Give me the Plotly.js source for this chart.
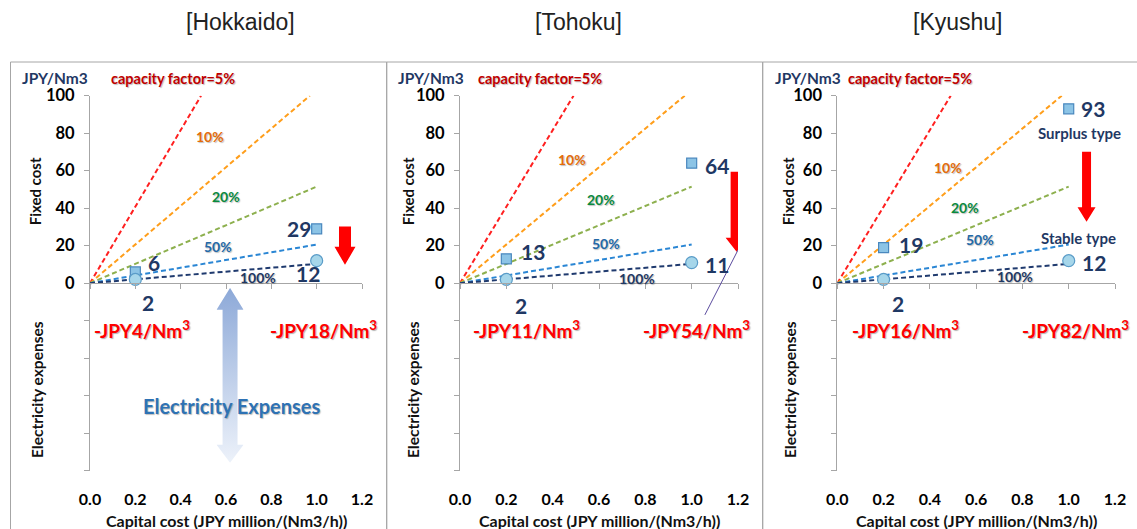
<!DOCTYPE html>
<html>
<head>
<meta charset="utf-8">
<script src="https://cdn.plot.ly/plotly-3.0.1.min.js"></script>
<style>html,body{margin:0;padding:0;background:#fff}#chart{width:1137px;height:529px}</style>
</head>
<body>
<div id="chart"></div>
<script>
// ---------------- DATA ----------------
const regions = ['[Hokkaido]', '[Tohoku]', '[Kyushu]'];
const capacityLabels = ['capacity factor=5%', '10%', '20%', '50%', '100%'];
const lineEndX = [0.49, 0.97, 1.0, 1.0, 1.0];
const lineEndY = [100, 100, 51.5, 20.6, 10.3];
const pointX = [0.2, 1.0];
const hokkaidoSurplus = [6, 29];
const hokkaidoStable = [2, 12];
const tohokuSurplus = [13, 64];
const tohokuStable = [2, 11];
const kyushuSurplus = [19, 93];
const kyushuStable = [2, 12];
const typeLabels = ['Surplus type', 'Stable type'];
const elecLow = [4, 11, 16];
const elecHigh = [18, 54, 82];
const xTickVals = [0, 0.2, 0.4, 0.6, 0.8, 1.0, 1.2];
const xTickText = ['0.0', '0.2', '0.4', '0.6', '0.8', '1.0', '1.2'];
const yTickVals = [-100, -80, -60, -40, -20, 0, 20, 40, 60, 80, 100];
const yTickText = ['', '', '', '', '', '0', '20', '40', '60', '80', '100'];

// ---------------- STYLE / LAYOUT ----------------
const W = 1137, H = 529;
const FONT = 'Lato, "Liberation Sans", sans-serif';
const NAVY = '#1F3864';
const AXC = '#A6A6A6';
const lineColors = ['#FF2020', '#FF9E1B', '#8DB04E', '#2A86D4', '#1F3A6E'];
const labelColors = ['#C00000', '#E46C0A', '#0A8A3E', '#2369A8', '#1F3864'];
const surplusSets = [hokkaidoSurplus, tohokuSurplus, kyushuSurplus];
const stableSets = [hokkaidoStable, tohokuStable, kyushuStable];

const plotTop = 95.7, plotBot = 470.7;
const panelPx = [[90, 362], [460, 738], [837.3, 1115]];
const regionCenters = [240, 578, 958];
const yd = [1 - plotBot / H, 1 - plotTop / H];

// per-panel label placement (data coords of each panel); first entry in paper px
const capTopPx = [173, 540, 910];
const capLabelPos = [
  [null, [0.529, 78.5], [0.599, 46.1], [0.565, 19.5], [0.741, 3.0]],
  [null, [0.482, 66.2], [0.607, 44.9], [0.629, 21.3], [0.765, 2.7]],
  [null, [0.479, 61.6], [0.552, 40.5], [0.616, 23.1], [0.768, 3.5]]
];
const jpyPx = [55, 431, 808];
// label offsets [surplus0, surplus1, stable0, stable1] as [xshift,yshift]
const valShift = [
  [[19, 9], [-18, 0], [13, -23], [-9, -13]],
  [[27, 7], [25, -2], [15, -26], [25, -2]],
  [[27, 3], [24, 0], [14, -24], [25, -2]]
];
const elecPos = [[0.229, 1.032], [0.289, 1.019], [0.296, 1.031]];
const yTitleX = [[35, 37], [408, 413], [788, 790]];
// red arrows: x, top, headStart, tip (data), shaft half width, head half width (px)
const redArrows = [
  [1.125, 30.2, 19.4, 9.8, 6, 10.5],
  [1.194, 59.5, 24.3, 16.8, 6, 11],
  [1.077, 70.1, 40.5, 32.8, 4.5, 9]
];

const traces = [];
const layout = {
  width: W, height: H,
  margin: {l: 0, r: 0, t: 0, b: 0},
  paper_bgcolor: '#fff', plot_bgcolor: 'rgba(0,0,0,0)',
  showlegend: false,
  font: {family: FONT},
  annotations: [], shapes: [], images: []
};

function paperAnn(px, py, text, font, extra) {
  return Object.assign({xref: 'paper', yref: 'paper', x: px / W, y: 1 - py / H,
    xanchor: 'center', yanchor: 'middle', text: text, showarrow: false, font: font}, extra || {});
}

for (let p = 0; p < 3; p++) {
  const sfx = p === 0 ? '' : String(p + 1);
  const xa = 'x' + sfx, ya = 'y' + sfx;
  const za = 'x' + (p + 4);
  const [px0, px1] = panelPx[p];
  const xd = [px0 / W, px1 / W];

  layout['xaxis' + sfx] = {
    domain: xd, range: [0, 1.2], anchor: ya,
    tickvals: xTickVals, ticktext: xTickText,
    ticks: '', showline: false, showgrid: false, zeroline: false,
    ticklabelstandoff: 17,
    tickfont: {family: FONT, size: 16, color: '#000', weight: 700},
    fixedrange: true
  };
  layout['yaxis' + sfx] = {
    domain: yd, range: [-100, 100], anchor: xa,
    tickvals: yTickVals, ticktext: yTickText,
    ticks: 'outside', ticklen: 5, tickcolor: AXC,
    showline: true, linecolor: AXC, linewidth: 1,
    showgrid: false, zeroline: false,
    ticklabelstandoff: 6,
    tickfont: {family: FONT, size: 16.5, color: '#000', weight: 700},
    fixedrange: true
  };
  layout['xaxis' + (p + 4)] = {
    overlaying: xa, anchor: 'free', position: (yd[0] + yd[1]) / 2,
    range: [0, 1.2], tickvals: xTickVals,
    ticks: 'outside', ticklen: 5, tickcolor: AXC,
    showline: true, linecolor: AXC, linewidth: 1,
    showticklabels: false, showgrid: false, zeroline: false,
    fixedrange: true
  };
  traces.push({x: [0], y: [0], xaxis: za, yaxis: ya, mode: 'none',
    hoverinfo: 'skip', showlegend: false});

  // capacity factor lines
  for (let i = 0; i < capacityLabels.length; i++) {
    traces.push({
      x: [0, lineEndX[i]], y: [0, lineEndY[i]], xaxis: xa, yaxis: ya,
      mode: 'lines', hoverinfo: 'skip',
      line: {color: lineColors[i], width: 2, dash: '5px,3px'}
    });
    const f = {family: FONT, size: i === 0 ? 14.5 : 14, color: labelColors[i], weight: 700,
      shadow: '1px 1px 1px rgba(0,0,0,0.25)'};
    if (i === 0) {
      layout.annotations.push(paperAnn(capTopPx[p], 79, capacityLabels[i], f));
    } else {
      layout.annotations.push({
        xref: xa, yref: ya, x: capLabelPos[p][i][0], y: capLabelPos[p][i][1],
        xanchor: 'center', yanchor: 'middle',
        text: capacityLabels[i], showarrow: false, font: f
      });
    }
  }

  // markers
  traces.push({
    x: pointX, y: surplusSets[p], xaxis: xa, yaxis: ya, mode: 'markers',
    hoverinfo: 'skip',
    marker: {symbol: 'square', size: 10, color: '#8CC4E6', line: {color: '#4A88BE', width: 1.2}}
  });
  traces.push({
    x: pointX, y: stableSets[p], xaxis: xa, yaxis: ya, mode: 'markers',
    hoverinfo: 'skip',
    marker: {symbol: 'circle', size: 12, color: '#A6D6EA', line: {color: '#5A9CC8', width: 1.2}}
  });

  // value labels
  const vals = [[pointX[0], surplusSets[p][0]], [pointX[1], surplusSets[p][1]],
                [pointX[0], stableSets[p][0]], [pointX[1], stableSets[p][1]]];
  vals.forEach((v, k) => {
    layout.annotations.push({
      xref: xa, yref: ya, x: v[0], y: v[1], text: String(v[1]),
      xanchor: 'center', yanchor: 'middle',
      xshift: valShift[p][k][0], yshift: valShift[p][k][1], showarrow: false,
      font: {family: FONT, size: 21, color: NAVY, weight: 700}
    });
  });

  // JPY/Nm3 unit
  layout.annotations.push(paperAnn(jpyPx[p], 78, 'JPY/Nm3',
    {family: FONT, size: 15.5, color: NAVY, weight: 700}));

  // electricity expense values
  [elecLow[p], elecHigh[p]].forEach((v, k) => {
    layout.annotations.push({
      xref: xa, yref: ya, x: elecPos[p][k], y: -24.9,
      xanchor: 'center', yanchor: 'middle',
      text: '-JPY' + v + '/Nm<sup>3</sup>', showarrow: false,
      font: {family: FONT, size: 19, color: '#FF0000', weight: 700, shadow: '1px 1px 1px rgba(0,0,0,0.3)'}
    });
  });

  // axis titles
  layout.annotations.push({
    xref: 'paper', yref: ya, x: yTitleX[p][0] / W, y: 49, textangle: -90,
    xanchor: 'center', yanchor: 'middle',
    text: 'Fixed cost', showarrow: false,
    font: {family: FONT, size: 15, color: '#111', weight: 700}
  });
  layout.annotations.push({
    xref: 'paper', yref: ya, x: yTitleX[p][1] / W, y: -57, textangle: -90,
    xanchor: 'center', yanchor: 'middle',
    text: 'Electricity expenses', showarrow: false,
    font: {family: FONT, size: 15.5, color: '#111', weight: 700}
  });
  layout.annotations.push(paperAnn((px0 + px1) / 2, 520, 'Capital cost (JPY million/(Nm3/h))',
    {family: FONT, size: 16, color: '#111', weight: 700}));

  // region title
  layout.annotations.push(paperAnn(regionCenters[p], 22, regions[p],
    {family: '"Liberation Sans", Arial, sans-serif', size: 23, color: '#222'}));

  // red arrow
  const [ax, aTop, aHead, aTip, sw, hw] = redArrows[p];
  layout.shapes.push({
    type: 'path', xref: xa, yref: ya, xsizemode: 'pixel', xanchor: ax,
    path: `M${-sw},${aTop} L${sw},${aTop} L${sw},${aHead} L${hw},${aHead} L0,${aTip} L${-hw},${aHead} L${-sw},${aHead} Z`,
    fillcolor: '#FF0000', line: {width: 0}
  });
}

// Kyushu type labels
layout.annotations.push({xref: 'x3', yref: 'y3', x: 1.048, y: 79.9, xanchor: 'center', yanchor: 'middle',
  text: typeLabels[0], showarrow: false, font: {family: FONT, size: 15, color: NAVY, weight: 700}});
layout.annotations.push({xref: 'x3', yref: 'y3', x: 1.041, y: 24.3, xanchor: 'center', yanchor: 'middle',
  text: typeLabels[1], showarrow: false, font: {family: FONT, size: 15, color: NAVY, weight: 700}});

// Panel frames
const frames = [[10.5, 386.7], [386.7, 762.7], [762.7, 1145]];
frames.forEach(f => {
  layout.shapes.push({
    type: 'rect', xref: 'paper', yref: 'paper', layer: 'below',
    x0: f[0] / W, x1: f[1] / W, y0: -0.02, y1: 1 - 62 / H,
    line: {color: '#A6A6A6', width: 1}, fillcolor: 'rgba(0,0,0,0)'
  });
});

// Tohoku leader line
layout.shapes.push({
  type: 'line', xref: 'x2', yref: 'y2', x0: 1.2, y0: 17.7, x1: 1.057, y1: -16.9,
  line: {color: '#5B4C9E', width: 1}
});

// Hokkaido "Electricity Expenses" gradient double arrow
const svg = "<svg xmlns='http://www.w3.org/2000/svg' width='27' height='175' viewBox='0 0 27 175' preserveAspectRatio='none'>" +
  "<defs><linearGradient id='g' x1='0' y1='0' x2='0' y2='1'><stop offset='0' stop-color='#8DA9D8'/><stop offset='1' stop-color='#EDF2FA'/></linearGradient></defs>" +
  "<path d='M13.5 0 L27 22 L21 22 L21 157 L27 157 L13.5 175 L0 157 L6 157 L6 22 L0 22 Z' fill='url(#g)'/></svg>";
layout.images.push({
  source: 'data:image/svg+xml;charset=utf-8,' + encodeURIComponent(svg),
  xref: 'x', yref: 'y', x: 0.618 - 0.0596, y: -2.5, sizex: 0.119, sizey: 93.2,
  xanchor: 'left', yanchor: 'top', sizing: 'stretch', layer: 'above'
});
layout.annotations.push({
  xref: 'x', yref: 'y', x: 0.625, y: -65.7, xanchor: 'center', yanchor: 'middle',
  text: 'Electricity Expenses', showarrow: false,
  font: {family: FONT, size: 20, color: '#2E72B4', weight: 700, shadow: '1px 1px 1px rgba(0,0,0,0.25)'}
});

Plotly.newPlot('chart', traces, layout, {staticPlot: true, displayModeBar: false});
</script>
</body>
</html>
